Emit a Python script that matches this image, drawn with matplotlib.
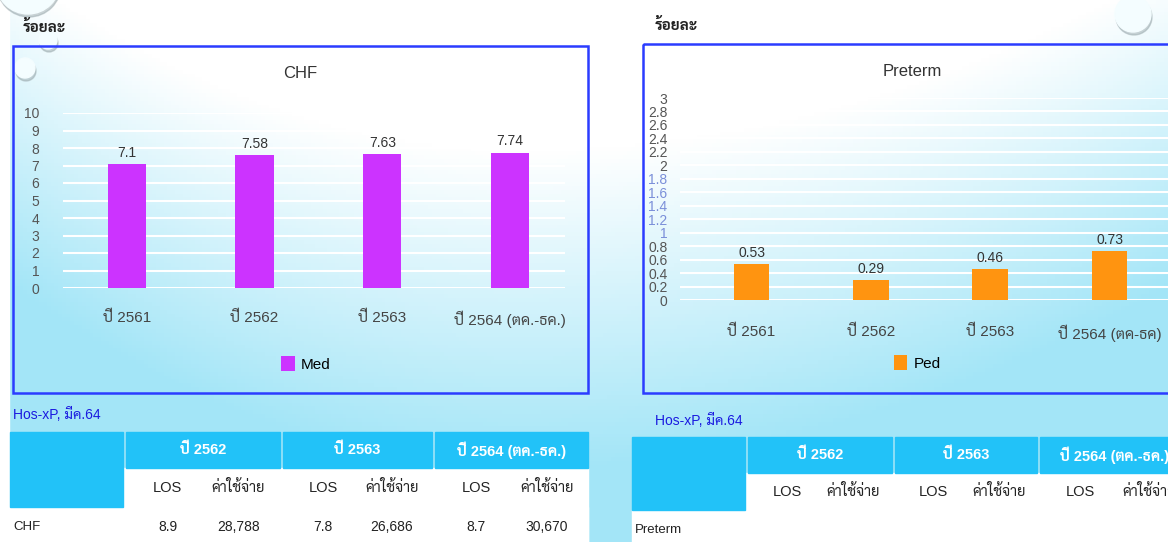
import numpy as np
import matplotlib
matplotlib.use('Agg')
import matplotlib.pyplot as plt
from matplotlib.patches import Rectangle, Circle

plt.rcParams['font.family'] = ['Liberation Sans', 'Sarabun', 'Loma', 'DejaVu Sans']

# ข้อมูลกราฟ
years_med = ['ปี 2561', 'ปี 2562', 'ปี 2563', 'ปี 2564 (ตค.-ธค.)']
years_ped = ['ปี 2561', 'ปี 2562', 'ปี 2563', 'ปี 2564 (ตค-ธค)']
med_values = [7.1, 7.58, 7.63, 7.74]
ped_values = [0.53, 0.29, 0.46, 0.73]

# ข้อมูลตาราง
table_years = ['ปี 2562', 'ปี 2563', 'ปี 2564 (ตค.-ธค.)']
table_cols = ['LOS', 'ค่าใช้จ่าย']
chf_row = ['8.9', '28,788', '7.8', '26,686', '8.7', '30,670']

W, H = 1168, 542
fig = plt.figure(figsize=(W / 100, H / 100), dpi=100)


def fx(x):
    return x / W


def fy(y):
    return 1 - y / H


# พื้นหลังไล่สี ขาว -> ฟ้า
bg = fig.add_axes([0, 0, 1, 1], zorder=-10)
X, Y = np.meshgrid(np.linspace(0, W, 300), np.linspace(0, H, 140))
dx = (X - 520) / 640
t = 1.25 * (Y - 150) / 400 + np.where(dx < 0, 0.9, 0.55) * dx ** 2
t = np.clip(t, 0, 1)[..., None]
white = np.array([1.0, 1.0, 1.0])
cyan = np.array([0.64, 0.90, 0.97])
bg.imshow(white * (1 - t) + cyan * t, extent=[0, W, H, 0], aspect='auto')
bg.add_patch(Rectangle((0, 0), 9, H, color='white'))
bg.set_xlim(0, W)
bg.set_ylim(H, 0)
bg.axis('off')

# ฟองอากาศตกแต่ง
for cx, cy, r in [(28, -18, 32), (25, 68, 10), (48, 40, 9), (1133, 14, 18)]:
    bg.add_patch(Circle((cx + 1, cy + 3), r, color='#9aa9ad', alpha=0.5))
    bg.add_patch(Circle((cx, cy), r, color='#f4fdff'))

# กรอบสีน้ำเงินของกราฟ
bg.add_patch(Rectangle((13, 46), 575, 347, fill=False, ec='#2b3cff', lw=1.8))
bg.add_patch(Rectangle((643, 44), 540, 349, fill=False, ec='#2b3cff', lw=1.8))

bg.text(23, 27, 'ร้อยละ', fontsize=11, fontweight='bold', color='#222', va='center')
bg.text(655, 25, 'ร้อยละ', fontsize=11, fontweight='bold', color='#222', va='center')


def bar_chart(left, right, top, bottom, cats, vals, ymax, step, color, title,
              title_xy, legend_label, legend_xy, xpad, ylab_pad, xlim):
    ax = fig.add_axes([fx(left), fy(bottom), fx(right - left), (bottom - top) / H])
    ax.patch.set_alpha(0)
    x = np.arange(len(vals))
    bars = ax.bar(x, vals, width=0.3, color=color, zorder=3, label=legend_label)
    ax.set_xlim(*xlim)
    ax.set_ylim(0, ymax)
    ticks = np.round(np.arange(0, ymax + step / 2, step), 1)
    ax.set_yticks(ticks)
    ax.set_yticklabels([f'{v:g}' for v in ticks], fontsize=10, color='#555')
    ax.set_xticks(x)
    ax.set_xticklabels(cats, fontsize=11, color='#444')
    ax.tick_params(length=0)
    ax.tick_params(axis='x', pad=xpad)
    ax.tick_params(axis='y', pad=ylab_pad)
    ax.grid(axis='y', color='white', lw=1.5, zorder=0)
    for s in ax.spines.values():
        s.set_visible(False)
    for b, v in zip(bars, vals):
        ax.annotate(f'{v:g}', (b.get_x() + b.get_width() / 2, v), xytext=(0, 3),
                    textcoords='offset points', ha='center', va='bottom',
                    fontsize=10, color='#333')
    fig.text(fx(title_xy[0]), fy(title_xy[1]), title, ha='center', va='center',
             fontsize=12, color='#333')
    ax.legend(loc='center', bbox_to_anchor=(fx(legend_xy[0]), fy(legend_xy[1])),
              bbox_transform=fig.transFigure, frameon=False, fontsize=11,
              handlelength=0.9, handleheight=1.1, handletextpad=0.4)
    return ax


# กราฟ CHF (Med)
ax1 = bar_chart(63, 565, 113, 288, years_med, med_values, 10, 1, '#cc33ff',
                'CHF', (300, 73), 'Med', (306, 364), 16, 17, (-0.5, 3.43))
# กราฟ Preterm (Ped)
ax2 = bar_chart(680, 1168, 98, 300, years_ped, ped_values, 3, 0.2, '#ff9410',
                'Preterm', (912, 71), 'Ped', (917, 363), 18, 9, (-0.6, 3.49))
# ป้ายแกนช่วงกลางของกราฟขวาเป็นสีฟ้าอ่อน
for lab, v in zip(ax2.get_yticklabels(), np.round(np.arange(0, 3.1, 0.2), 1)):
    if 0.9 < v < 1.9:
        lab.set_color('#7b8fd9')


# ตาราง Hos-xP
def table(x0, y0, x_end, col1, hdr_h, sub_h, row_h, widths, row_name, row_vals, cap_xy):
    bg.text(cap_xy[0], cap_xy[1], 'Hos-xP, มีค.64', fontsize=10, color='#1a1ae0',
            va='center')
    head = '#22c2f8'
    # พื้นขาวของเนื้อตาราง
    bg.add_patch(Rectangle((col1, y0 + hdr_h), x_end - col1, sub_h + row_h, color='white'))
    bg.add_patch(Rectangle((x0, y0 + hdr_h + sub_h), x_end - x0, row_h, color='white'))
    bg.add_patch(Rectangle((x0, y0), col1 - x0, hdr_h + sub_h, color=head))
    row_y = y0 + hdr_h + sub_h + row_h / 2
    cx = col1 + 3
    j = 0
    for name, w in zip(table_years, widths):
        bg.add_patch(Rectangle((cx, y0), w, hdr_h, color=head))
        bg.text(cx + w / 2, y0 + hdr_h / 2, name, ha='center', va='center',
                fontsize=10.5, fontweight='bold', color='white')
        for k, c in enumerate(table_cols):
            px = cx + w * (0.27 if k == 0 else 0.73)
            bg.text(px, y0 + hdr_h + sub_h / 2, c, ha='center', va='center',
                    fontsize=10.5, color='#222')
            if row_vals:
                bg.text(px, row_y, row_vals[j], ha='center', va='center',
                        fontsize=10, color='#222')
                j += 1
        cx += w + 3
    bg.text(x0 + 3, row_y, row_name, va='center', fontsize=9.5, color='#222')


table(10, 432, 588, 123, 36, 39, 40, [154, 149, 153], 'CHF', chf_row, (13, 414))
table(632, 437, 1168, 745, 36, 37, 40, [144, 142, 150], 'Preterm', None, (655, 420))

fig.savefig('out.png', dpi=100)
